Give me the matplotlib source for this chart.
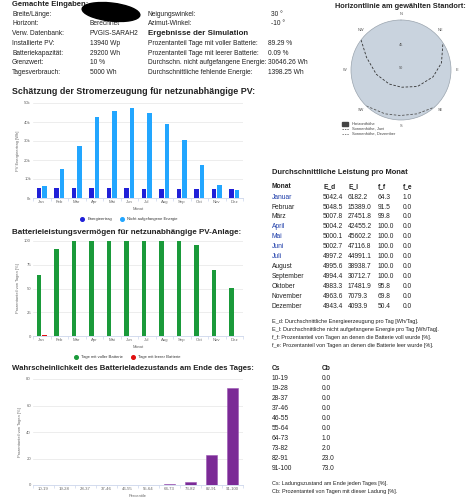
import numpy as np
import matplotlib
matplotlib.use('Agg')
import matplotlib.pyplot as plt
from matplotlib.lines import Line2D
from matplotlib.patches import Ellipse, Rectangle

plt.rcParams['font.family'] = ['Liberation Sans', 'DejaVu Sans']

W, H = 473, 499

# ---- data ----
months_short = ['Jan', 'Feb', 'Mar', 'Apr', 'Mai', 'Jun', 'Jul', 'Aug', 'Sep', 'Okt', 'Nov', 'Dez']
months_long = ['Januar', 'Februar', 'März', 'April', 'Mai', 'Juni', 'Juli', 'August',
               'September', 'Oktober', 'November', 'Dezember']
month_link = [True, False, False, True, True, True, True, False, False, False, False, False]
e_d = [5042.4, 5048.5, 5007.8, 5004.2, 5000.1, 5002.7, 4997.2, 4995.6, 4994.4, 4983.3, 4963.6, 4943.4]
e_l = [6182.2, 15389.0, 27451.8, 42455.2, 45602.2, 47116.8, 44991.1, 38938.7, 30712.7, 17481.9, 7079.3, 4093.9]
f_f = [64.3, 91.5, 99.8, 100.0, 100.0, 100.0, 100.0, 100.0, 100.0, 95.8, 69.8, 50.4]
f_e = [1.0, 0.0, 0.0, 0.0, 0.0, 0.0, 0.0, 0.0, 0.0, 0.0, 0.0, 0.0]

cs_bins = ['10-19', '19-28', '28-37', '37-46', '46-55', '55-64', '64-73', '73-82', '82-91', '91-100']
cb = [0.0, 0.0, 0.0, 0.0, 0.0, 0.0, 1.0, 2.0, 23.0, 73.0]

input_labels = ['Breite/Länge:', 'Horizont:', 'Verw. Datenbank:', 'Installierte PV:',
                'Batteriekapazität:', 'Grenzwert:', 'Tagesverbrauch:']
input_values = ['', 'Berechnet', 'PVGIS-SARAH2', '13940 Wp', '29200 Wh', '10 %', '5000 Wh']
angle_labels = ['Neigungswinkel:', 'Azimut-Winkel:']
angle_values = ['30 °', '-10 °']
result_labels = ['Prozentanteil Tage mit voller Batterie:', 'Prozentanteil Tage mit leerer Batterie:',
                 'Durchschn. nicht aufgefangene Energie:', 'Durchschnittliche fehlende Energie:']
result_values = ['89.29 %', '0.09 %', '30646.26 Wh', '1398.25 Wh']

# sun paths (azimuth deg from N, elevation deg)
june_az = [307, 290, 260, 220, 178, 135, 102, 80, 57]
june_el = [0, 24, 45, 57, 59, 48, 31, 16, 0]
dec_az = [224, 200, 181, 160, 138]
dec_el = [0, 6, 8, 6, 0]

fig = plt.figure(figsize=(W / 100, H / 100), dpi=100)


def box(x, y, w, h):
    return [x / W, 1 - (y + h) / H, w / W, h / H]


def ftext(x, y, s, **kw):
    kw.setdefault('va', 'center')
    kw.setdefault('color', '#222222')
    return fig.text(x / W, 1 - y / H, s, **kw)


# ---- top-left inputs ----
ftext(12, 5, 'Gemachte Eingaben:', fontsize=5.5, fontweight='bold')
for i, (lab, val) in enumerate(zip(input_labels, input_values)):
    y = 14 + i * 9.8
    ftext(12, y, lab, fontsize=4.8)
    ftext(90, y, val, fontsize=4.8)
fig.patches.append(Ellipse((111 / W, 1 - 12 / H), 58 / W, 18 / H, angle=-6,
                           transform=fig.transFigure, color='black', zorder=5))

for i, (lab, val) in enumerate(zip(angle_labels, angle_values)):
    ftext(148, 14 + i * 9.8, lab, fontsize=4.8)
    ftext(271, 14 + i * 9.8, val, fontsize=4.8)
ftext(148, 33.6, 'Ergebnisse der Simulation', fontsize=5.7, fontweight='bold')
for i, (lab, val) in enumerate(zip(result_labels, result_values)):
    y = 43.4 + i * 9.8
    ftext(148, y, lab, fontsize=4.8)
    ftext(268, y, val, fontsize=4.8)

# ---- horizon polar plot ----
ftext(400, 6, 'Horizontlinie am gewählten Standort:', fontsize=5.3, fontweight='bold', ha='center')
pax = fig.add_axes(box(351, 20, 100, 100), projection='polar')
pax.set_theta_zero_location('N')
pax.set_theta_direction(-1)
pax.set_facecolor('#c9d3de')
pax.set_ylim(0, 90)
pax.grid(False)
pax.set_xticks([])
pax.set_yticks([])
pax.spines['polar'].set_color('#9aa4ae')
pax.spines['polar'].set_linewidth(0.5)
pax.plot(np.radians(june_az), 90 - np.array(june_el), color='#333333', lw=0.6, ls=(0, (3, 2)))
pax.plot(np.radians(dec_az), 90 - np.array(dec_el), color='#555555', lw=0.6, ls=(0, (3, 2)))
for lab, ang in zip(['N', 'NE', 'E', 'SE', 'S', 'SW', 'W', 'NW'], range(0, 360, 45)):
    pax.text(np.radians(ang), 101, lab, fontsize=2.8, color='#555555', ha='center', va='center',
             clip_on=False)
pax.text(0, 45, '45', fontsize=2.8, color='#555555', ha='center', va='center')
pax.text(0, 3, '90', fontsize=2.8, color='#555555', ha='center', va='center')

fig.patches.append(Rectangle((342 / W, 1 - 126 / H), 6 / W, 4 / H, transform=fig.transFigure,
                             color='#444444'))
ftext(352, 124, 'Horizonthöhe', fontsize=2.9, color='#444444')
fig.lines.append(Line2D([342 / W, 349 / W], [1 - 129 / H] * 2, transform=fig.transFigure,
                        color='#333333', lw=0.5, ls=(0, (2, 1.5))))
ftext(352, 129, 'Sonnenhöhe, Juni', fontsize=2.9, color='#444444')
fig.lines.append(Line2D([342 / W, 349 / W], [1 - 134 / H] * 2, transform=fig.transFigure,
                        color='#555555', lw=0.5, ls=(0, (2, 1.5))))
ftext(352, 134, 'Sonnenhöhe, Dezember', fontsize=2.9, color='#444444')


# ---- bar charts ----
def style_axes(ax, labels, yticks, ytick_labels, ylabel, xlabel):
    n = len(labels)
    ax.set_xlim(-0.5, n - 0.5)
    ax.set_ylim(yticks[0], yticks[-1])
    ax.set_yticks(yticks)
    ax.set_yticklabels(ytick_labels)
    ax.grid(axis='y', color='#e6e6e6', lw=0.5)
    ax.set_axisbelow(True)
    for s in ['top', 'right', 'left']:
        ax.spines[s].set_visible(False)
    ax.spines['bottom'].set_color('#ccd6eb')
    ax.spines['bottom'].set_linewidth(0.6)
    ax.set_xticks(range(n))
    ax.set_xticklabels(labels)
    ax.set_xticks(np.arange(-0.5, n), minor=True)
    ax.tick_params(axis='both', which='major', length=0, labelsize=3.1, colors='#666666', pad=1.5)
    ax.tick_params(axis='x', which='minor', length=2.5, color='#ccd6eb', width=0.5)
    ax.set_ylabel(ylabel, fontsize=2.9, color='#666666', labelpad=3)
    ax.set_xlabel(xlabel, fontsize=2.9, color='#666666', labelpad=0.5)


def legend(x, y, names, colors):
    handles = [Line2D([], [], marker='o', ls='', color=c, markersize=2.6) for c in colors]
    fig.legend(handles, names, loc='center', bbox_to_anchor=(x / W, 1 - y / H), ncol=2,
               frameon=False, fontsize=3, handletextpad=0.2, columnspacing=1.5, labelcolor='#333333')


x = np.arange(12)

# chart 1
ftext(12, 92, 'Schätzung der Stromerzeugung für netzunabhängige PV:', fontsize=6.4, fontweight='bold')
ax1 = fig.add_axes(box(33, 103, 210, 95))
ax1.bar(x - 0.16, e_d, width=0.26, color='#2020d8')
ax1.bar(x + 0.16, e_l, width=0.26, color='#22a6ff')
style_axes(ax1, months_short, [0, 10000, 20000, 30000, 40000, 50000],
           ['0k', '10k', '20k', '30k', '40k', '50k'], 'PV Energieertrag [Wh]', 'Monat')
legend(128, 219, ['Energieertrag', 'Nicht aufgefangene Energie'], ['#2020d8', '#22a6ff'])

# chart 2
ftext(12, 232, 'Batterieleistungsvermögen für netzunabhängige PV-Anlage:', fontsize=5.8, fontweight='bold')
ax2 = fig.add_axes(box(33, 241, 210, 95))
ax2.bar(x - 0.16, f_f, width=0.26, color='#1a9a3a')
ax2.bar(x + 0.16, f_e, width=0.26, color='#e01010')
style_axes(ax2, months_short, [0, 25, 50, 75, 100], ['0', '25', '50', '75', '100'],
           'Prozentanteil von Tagen [%]', 'Monat')
legend(126, 357, ['Tage mit voller Batterie', 'Tage mit leerer Batterie'], ['#1a9a3a', '#e01010'])

# chart 3
ftext(12, 368, 'Wahrscheinlichkeit des Batterieladezustands am Ende des Tages:', fontsize=5.6,
      fontweight='bold')
ax3 = fig.add_axes(box(33, 379, 210, 106))
ax3.bar(np.arange(len(cs_bins)), cb, width=0.48, color='#7b2a96', edgecolor='#9a55b3', lw=0.4)
style_axes(ax3, cs_bins, [0, 20, 40, 60, 80], ['0', '20', '40', '60', '80'],
           'Prozentanteil von Tagen [%]', 'Percentile')

# ---- monthly table ----
ftext(272, 172, 'Durchschnittliche Leistung pro Monat', fontsize=5.4, fontweight='bold')
cols_x = [272, 323, 348, 378, 403]
for cx, h in zip(cols_x, ['Monat', 'E_d', 'E_l', 'f_f', 'f_e']):
    ftext(cx, 187, h, fontsize=4.8, fontweight='bold')
for i in range(12):
    y = 197 + i * 10
    ftext(cols_x[0], y, months_long[i], fontsize=4.8, color='#1a3aa8' if month_link[i] else '#222222')
    ftext(cols_x[1], y, f'{e_d[i]:.1f}', fontsize=4.8)
    ftext(cols_x[2], y, f'{e_l[i]:.1f}', fontsize=4.8)
    ftext(cols_x[3], y, f'{f_f[i]:.1f}', fontsize=4.8)
    ftext(cols_x[4], y, f'{f_e[i]:.1f}', fontsize=4.8)
notes = ['E_d: Durchschnittliche Energieerzeugung pro Tag [Wh/Tag].',
         'E_l: Durchschnittliche nicht aufgefangene Energie pro Tag [Wh/Tag].',
         'f_f: Prozentanteil von Tagen an denen die Batterie voll wurde [%].',
         'f_e: Prozentanteil von Tagen an denen die Batterie leer wurde [%].']
for i, s in enumerate(notes):
    ftext(272, 321 + i * 8.3, s, fontsize=4.0)

# ---- charge state table ----
ftext(272, 368, 'Cs', fontsize=4.8, fontweight='bold')
ftext(322, 368, 'Cb', fontsize=4.8, fontweight='bold')
for i in range(len(cs_bins)):
    y = 378 + i * 10
    ftext(272, y, cs_bins[i], fontsize=4.8)
    ftext(322, y, f'{cb[i]:.1f}', fontsize=4.8)
ftext(272, 484, 'Cs: Ladungszustand am Ende jeden Tages [%].', fontsize=4.0)
ftext(272, 492, 'Cb: Prozentanteil von Tagen mit dieser Ladung [%].', fontsize=4.0)

fig.savefig('out.png', dpi=100)
